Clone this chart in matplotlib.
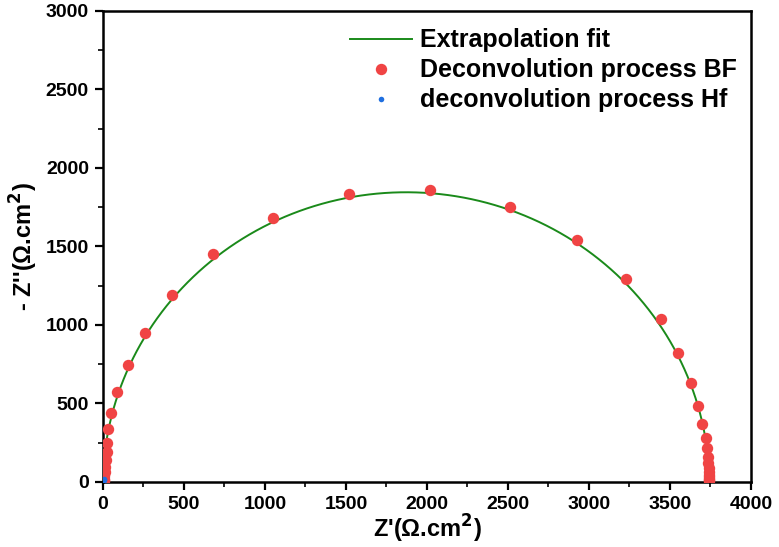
import numpy as np
import matplotlib
matplotlib.use("Agg")
import matplotlib.pyplot as plt
from matplotlib.ticker import MultipleLocator

# Data
bf_x = [259, 426, 679, 1049, 1519, 2019, 2512, 2926, 3228, 3443, 3551, 3628,
        3675, 3699, 3722, 3730, 3733, 3736, 3738, 3740, 3741, 3742, 3742, 3743, 3743,
        154, 88, 49, 33, 27, 23, 19, 15, 13, 10, 8, 6, 5]
bf_y = [951, 1191, 1452, 1682, 1834, 1860, 1752, 1541, 1293, 1036, 820, 632,
        486, 369, 282, 214, 161, 119, 90, 65, 45, 30, 18, 10, 4,
        743, 573, 438, 335, 250, 193, 140, 97, 65, 40, 20, 10, 4]
hf_x = [2, 3, 4, 5, 6]
hf_y = [2, 5, 9, 13, 18]

# Extrapolation fit parameters (semicircle)
fit_center_x = 1872
fit_center_y = -27
fit_radius = 1872

fig = plt.figure(figsize=(7.79, 5.47), dpi=100)
ax = fig.add_axes([0.132, 0.119, 0.832, 0.861])

theta = np.linspace(0, np.pi, 600)
fx = fit_center_x + fit_radius * np.cos(theta)
fy = fit_center_y + fit_radius * np.sin(theta)
mask = fy >= 0
ax.plot(fx[mask], fy[mask], color='#1a8a1a', lw=1.4, label='Extrapolation fit', zorder=2)
ax.plot(bf_x, bf_y, 'o', color='#f04444', ms=8.2, mec='none',
        label='Deconvolution process BF', zorder=3)
ax.plot(hf_x, hf_y, 'o', color='#1f6fe0', ms=4, mec='none',
        label='deconvolution process Hf', zorder=4)

ax.set_xlim(0, 4000)
ax.set_ylim(0, 3000)
ax.xaxis.set_major_locator(MultipleLocator(500))
ax.xaxis.set_minor_locator(MultipleLocator(250))
ax.yaxis.set_major_locator(MultipleLocator(500))
ax.yaxis.set_minor_locator(MultipleLocator(250))

fam = ['Liberation Sans', 'DejaVu Sans']
ax.tick_params(which='major', direction='out', length=6, width=1.6,
               labelsize=14, top=False, right=False, pad=4)
ax.tick_params(which='minor', direction='out', length=3.5, width=1.2,
               top=False, right=False)
for lab in ax.get_xticklabels() + ax.get_yticklabels():
    lab.set_fontfamily(fam)
    lab.set_fontweight('bold')
for s in ax.spines.values():
    s.set_linewidth(1.8)

ax.set_xlabel("Z'(\u03a9.cm$^\\mathbf{2}$)", fontsize=17, fontweight='bold',
              family=fam, labelpad=0)
ax.set_ylabel("- Z''(\u03a9.cm$^\\mathbf{2}$)", fontsize=17, fontweight='bold',
              family=fam, labelpad=4)

leg = ax.legend(loc='upper right', frameon=False, handlelength=2.5,
                prop={'family': fam, 'weight': 'bold', 'size': 18},
                labelspacing=0.24, handletextpad=0.3, borderaxespad=0.3,
                bbox_to_anchor=(1.005, 1.0))

fig.savefig('out.png', dpi=100)
